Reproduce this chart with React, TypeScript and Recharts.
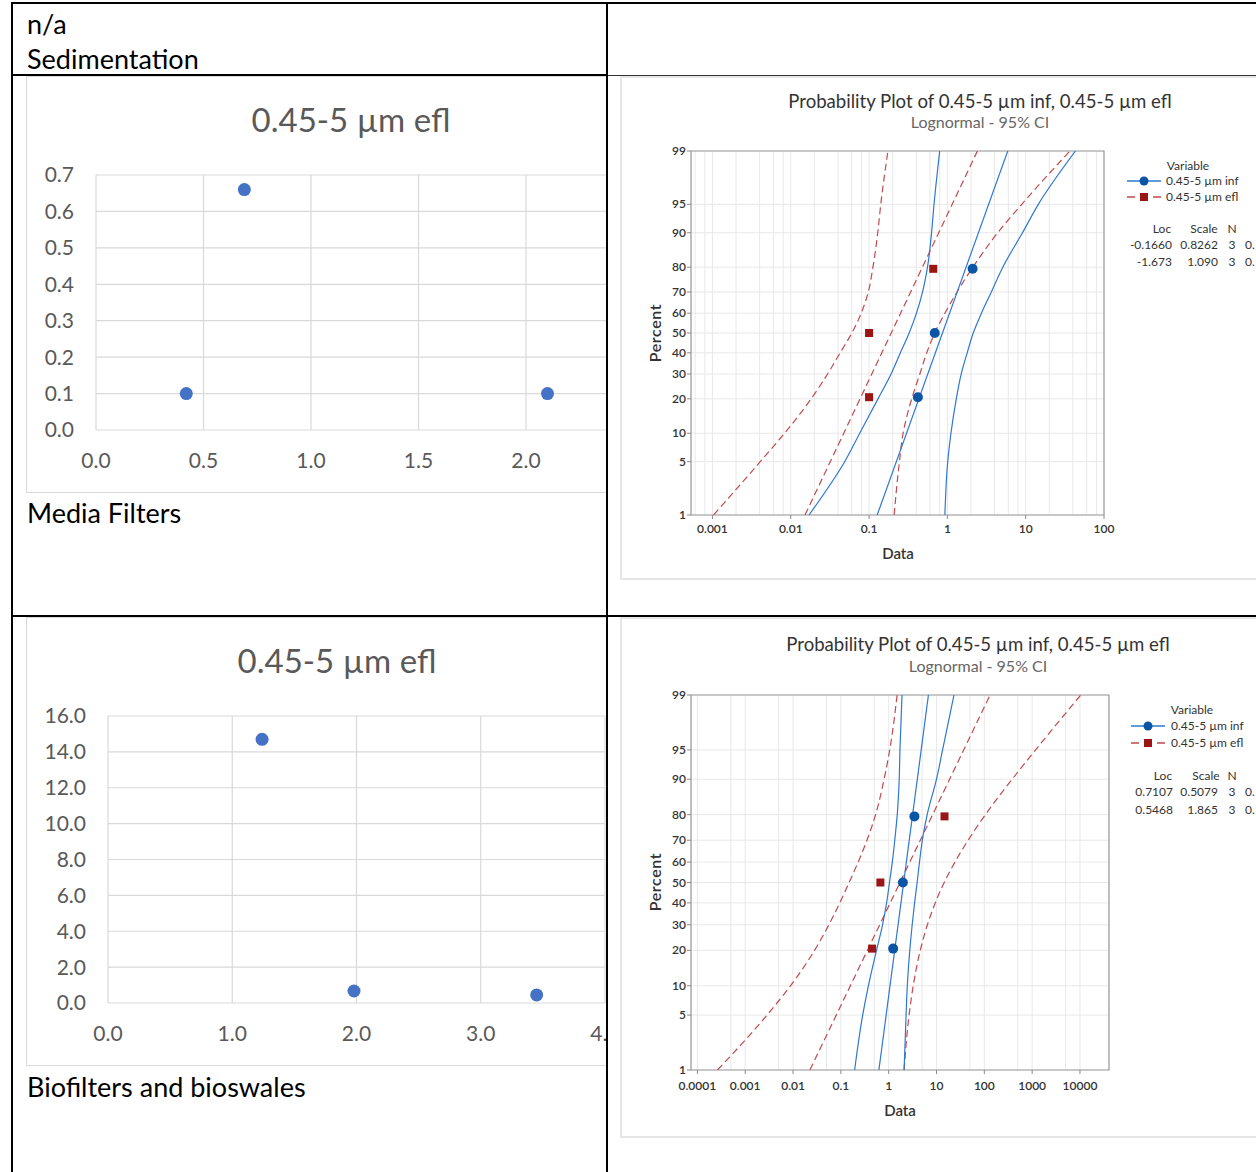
import React from 'react';
import { ComposedChart, ScatterChart, Scatter, Line, XAxis, YAxis, CartesianGrid, ReferenceArea } from 'recharts';

const EXCEL_FONT = 'Lato, Carlito, Calibri, "Liberation Sans", sans-serif';
const MT_FONT = 'Lato, "Segoe UI", "Noto Sans", sans-serif';

// ---------- Excel scatter: Media Filters ----------
const mfX = [0.42, 0.69, 2.1];
const mfY = [0.1, 0.66, 0.1];
const mfXTicks = [0, 0.5, 1, 1.5, 2, 2.5];
const mfXTickLabels = ['0.0', '0.5', '1.0', '1.5', '2.0', ''];
const mfYTicks = [0, 0.1, 0.2, 0.3, 0.4, 0.5, 0.6, 0.7];

// ---------- Excel scatter: Biofilters and bioswales ----------
const bfX = [1.24, 1.98, 3.45];
const bfY = [14.7, 0.67, 0.45];
const bfXTicks = [0, 1, 2, 3, 4];
const bfXTickLabels = ['0.0', '1.0', '2.0', '3.0', '4.0'];
const bfYTicks = [0, 2, 4, 6, 8, 10, 12, 14, 16];

// ---------- Minitab probability plots ----------
const percentTicks = [1, 5, 10, 20, 30, 40, 50, 60, 70, 80, 90, 95, 99];
const rankPercents = [20.6, 50, 79.4];
const ciPercents = [1, 5, 10, 20, 30, 40, 50, 60, 70, 80, 90, 95, 99];
const fitPercents = [1, 99];

// plot 1 (Media Filters)
const p1Majors = [0.001, 0.01, 0.1, 1, 10, 100];
const p1MajorLabels = ['0.001', '0.01', '0.1', '1', '10', '100'];
const p1MinorMult = [2, 4, 6, 8];
const p1Domain: [number, number] = [0.000532, 100];
const p1InfPts = [0.42, 0.69, 2.1];
const p1EflPts = [0.1, 0.1, 0.66];
const p1InfFit = [0.127, 5.9];
const p1EflFit = [0.0152, 2.42];
const p1InfLo = [0.0171, 0.0488, 0.076, 0.13, 0.191, 0.251, 0.325, 0.403, 0.482, 0.557, 0.628, 0.675, 0.798];
const p1InfHi = [0.929, 1.01, 1.11, 1.3, 1.5, 1.79, 2.14, 2.72, 3.64, 5.1, 9.1, 14.5, 43.2];
const p1EflLo = [0.001035, 0.00407, 0.00832, 0.0182, 0.0295, 0.0427, 0.0603, 0.0794, 0.0977, 0.112, 0.129, 0.141, 0.174];
const p1EflHi = [0.209, 0.244, 0.272, 0.35, 0.445, 0.545, 0.69, 0.929, 1.33, 2.12, 4.39, 8.9, 36.7];
const p1Stats = [['-0.1660', '0.8262', '3', '0.'], ['-1.673', '1.090', '3', '0.']];

// plot 2 (Biofilters and bioswales)
const p2Majors = [0.0001, 0.001, 0.01, 0.1, 1, 10, 100, 1000, 10000];
const p2MajorLabels = ['0.0001', '0.001', '0.01', '0.1', '1', '10', '100', '1000', '10000'];
const p2MinorMult = [5];
const p2Domain: [number, number] = [0.0000735, 40450];
const p2InfPts = [1.24, 1.98, 3.45];
const p2EflPts = [0.45, 0.67, 14.7];
const p2InfFit = [0.624, 6.78];
const p2EflFit = [0.0225, 132];
const p2InfLo = [0.194, 0.286, 0.376, 0.556, 0.745, 0.904, 1.04, 1.19, 1.34, 1.51, 1.66, 1.72, 1.9];
const p2InfHi = [2.1, 2.31, 2.45, 2.76, 3.1, 3.48, 3.93, 4.41, 5.05, 6.38, 10.0, 13.4, 23.2];
const p2EflLo = [0.000263, 0.00286, 0.00883, 0.0282, 0.0561, 0.0948, 0.149, 0.23, 0.352, 0.532, 0.801, 1.05, 1.5];
const p2EflHi = [2.1, 2.67, 3.26, 4.58, 6.45, 9.4, 14.5, 24.3, 45.8, 105, 382, 1178, 10400];
const p2Stats = [['0.7107', '0.5079', '3', '0.'], ['0.5468', '1.865', '3', '0.']];

const titleText = 'Probability Plot of 0.45-5 µm inf, 0.45-5 µm efl';
const subtitleText = 'Lognormal - 95% CI';
const legendItems = ['0.45-5 µm inf', '0.45-5 µm efl'];

// inverse standard normal CDF (probability-axis transform)
function probit(p: number): number {
  const a = [-39.69683028665376, 220.9460984245205, -275.9285104469687, 138.357751867269, -30.66479806614716, 2.506628277459239];
  const b = [-54.47609879822406, 161.5858368580409, -155.6989798598866, 66.80131188771972, -13.28068155288572];
  const c = [-0.007784894002430293, -0.3223964580411365, -2.400758277161838, -2.549732539343734, 4.374664141464968, 2.938163982698783];
  const d = [0.007784695709041462, 0.3224671290700398, 2.445134137142996, 3.754408661907416];
  const pl = 0.02425;
  if (p < pl) {
    const q = Math.sqrt(-2 * Math.log(p));
    return (((((c[0] * q + c[1]) * q + c[2]) * q + c[3]) * q + c[4]) * q + c[5]) / ((((d[0] * q + d[1]) * q + d[2]) * q + d[3]) * q + 1);
  }
  if (p <= 1 - pl) {
    const q = p - 0.5;
    const r = q * q;
    return ((((((a[0] * r + a[1]) * r + a[2]) * r + a[3]) * r + a[4]) * r + a[5]) * q) / (((((b[0] * r + b[1]) * r + b[2]) * r + b[3]) * r + b[4]) * r + 1);
  }
  const q = Math.sqrt(-2 * Math.log(1 - p));
  return -(((((c[0] * q + c[1]) * q + c[2]) * q + c[3]) * q + c[4]) * q + c[5]) / ((((d[0] * q + d[1]) * q + d[2]) * q + d[3]) * q + 1);
}

const toPts = (xs: number[], ps: number[]) => xs.map((x, i) => ({ x, z: probit(ps[i] / 100) }));

const BLUE_LINE = '#2f78d2';
const BLUE_DOT = '#0a55a6';
const RED_LINE = '#c04a4e';
const RED_DOT = '#9c1515';

function Txt(props: { x: number; y: number; size: number; color?: string; anchor?: string; font?: string; weight?: number; rotate?: boolean; spacing?: number; children: React.ReactNode }) {
  const { x, y, size, color = '#000', anchor = 'start', font = MT_FONT, weight = 400, rotate = false, spacing = 0, children } = props;
  const tx = anchor === 'middle' ? '-50%' : anchor === 'end' ? '-100%' : '0';
  return (
    <div
      style={{
        position: 'absolute', left: x, top: y, whiteSpace: 'nowrap', lineHeight: 1, fontSize: size, color,
        fontFamily: font, fontWeight: weight, letterSpacing: spacing,
        transform: `translate(${tx}, -50%)` + (rotate ? ' rotate(-90deg)' : ''),
        transformOrigin: rotate ? '50% 50%' : undefined,
      }}
    >
      {children}
    </div>
  );
}

interface ProbProps {
  left: number; top: number; W: number; H: number;
  plot: { l: number; t: number; r: number; b: number };
  domain: [number, number];
  majors: number[]; majorLabels: string[]; minorMult: number[]; xLabelDy: number;
  infPts: number[]; eflPts: number[]; infFit: number[]; eflFit: number[];
  infLo: number[]; infHi: number[]; eflLo: number[]; eflHi: number[];
  stats: string[][];
  pos: {
    titleX: number; titleY: number; subY: number; pctX: number; pctY: number; dataX: number; dataY: number;
    varX: number; varY: number; legLineX: number; legTextX: number; legY1: number; legY2: number;
    stHeadY: number; stRow1: number; stRow2: number; c1: number; c2: number; c3: number; c4: number; hLoc: number; hScale: number;
  };
}

function ProbPlot(p: ProbProps) {
  const zMin = probit(0.01);
  const zMax = probit(0.99);
  const zTicks = percentTicks.map((v) => probit(v / 100));
  const decades = [p.majors[0] / 10, ...p.majors];
  const minors: number[] = [];
  decades.forEach((m) => p.minorMult.forEach((k) => {
    const v = m * k;
    if (v > p.domain[0] && v < p.domain[1]) minors.push(v);
  }));
  const allX = [...p.majors, ...minors].sort((a, b) => a - b);

  const XTick = (tp: any) => {
    const { x, y, payload } = tp;
    const idx = p.majors.findIndex((m) => Math.abs(payload.value / m - 1) < 1e-6);
    if (idx < 0) return <g />;
    return (
      <g>
        <line x1={x} x2={x} y1={y} y2={y + 4} stroke="#8a8a8a" />
        <text x={x} y={y + p.xLabelDy} textAnchor="middle" fontSize={12} fontWeight={600} fill="#333" fontFamily={MT_FONT}>{p.majorLabels[idx]}</text>
      </g>
    );
  };
  const YTick = (tp: any) => {
    const { x, y, payload } = tp;
    const idx = zTicks.findIndex((z) => Math.abs(z - payload.value) < 1e-6);
    return (
      <g>
        <line x1={x - 4} x2={x} y1={y} y2={y} stroke="#8a8a8a" />
        <text x={x - 5} y={y + 4} textAnchor="end" fontSize={12} fontWeight={600} fill="#333" fontFamily={MT_FONT}>{idx >= 0 ? percentTicks[idx] : ''}</text>
      </g>
    );
  };

  const lineProps = { isAnimationActive: false, dot: false, activeDot: false, type: 'monotoneY' as const, strokeWidth: 1.2 };
  const pos = p.pos;

  return (
    <div style={{ position: 'absolute', left: p.left, top: p.top, width: p.W, height: p.H, background: '#fff', boxShadow: 'inset 0 0 0 2px #e6e6e6' }}>
      <div style={{ position: 'absolute', left: 0, top: 0 }}>
        <ComposedChart width={p.W} height={p.H} margin={{ top: p.plot.t, left: p.plot.l - 40, right: p.W - p.plot.r, bottom: p.H - p.plot.b - 30 }}>
          <CartesianGrid stroke="#e8e8e8" strokeWidth={1} />
          <XAxis dataKey="x" type="number" scale="log" domain={p.domain} allowDataOverflow ticks={allX} interval={0}
            tick={(tp: any) => <XTick {...tp} />} tickLine={false} axisLine={false} tickSize={0} tickMargin={0} height={30} />
          <YAxis type="number" domain={[zMin, zMax]} allowDataOverflow ticks={zTicks} interval={0}
            tick={(tp: any) => <YTick {...tp} />} tickLine={false} axisLine={false} tickSize={0} tickMargin={0} width={40} />
          <ReferenceArea x1={p.domain[0]} x2={p.domain[1]} y1={zMin} y2={zMax} fill="none" fillOpacity={0} stroke="#9c9c9c" strokeWidth={1.2} />
          <Line data={toPts(p.eflLo, ciPercents)} dataKey="z" stroke={RED_LINE} strokeDasharray="7 4" {...lineProps} />
          <Line data={toPts(p.eflHi, ciPercents)} dataKey="z" stroke={RED_LINE} strokeDasharray="7 4" {...lineProps} />
          <Line data={toPts(p.eflFit, fitPercents)} dataKey="z" stroke={RED_LINE} strokeDasharray="7 4" {...lineProps} type="linear" />
          <Line data={toPts(p.infLo, ciPercents)} dataKey="z" stroke={BLUE_LINE} {...lineProps} />
          <Line data={toPts(p.infHi, ciPercents)} dataKey="z" stroke={BLUE_LINE} {...lineProps} />
          <Line data={toPts(p.infFit, fitPercents)} dataKey="z" stroke={BLUE_LINE} {...lineProps} type="linear" />
          <Scatter data={toPts(p.eflPts, rankPercents)} dataKey="z" isAnimationActive={false}
            shape={(sp: any) => <rect x={sp.cx - 4} y={sp.cy - 4} width={8} height={8} fill={RED_DOT} />} />
          <Scatter data={toPts(p.infPts, rankPercents)} dataKey="z" isAnimationActive={false}
            shape={(sp: any) => <circle cx={sp.cx} cy={sp.cy} r={5} fill={BLUE_DOT} />} />
        </ComposedChart>
      </div>
      <Txt x={pos.titleX} y={pos.titleY} size={18.6} color="#333" anchor="middle">{titleText}</Txt>
      <Txt x={pos.titleX} y={pos.subY} size={16} color="#666" anchor="middle">{subtitleText}</Txt>
      <Txt x={pos.pctX} y={pos.pctY} size={16} color="#333" anchor="middle" weight={600} spacing={0.6} rotate>Percent</Txt>
      <Txt x={pos.dataX} y={pos.dataY} size={15} color="#333" anchor="middle" weight={600}>Data</Txt>
      <Txt x={pos.varX} y={pos.varY} size={12} color="#333" anchor="middle">Variable</Txt>
      <svg style={{ position: 'absolute', left: pos.legLineX, top: pos.legY1 - 6 }} width={34} height={30}>
        <line x1={0} x2={34} y1={6} y2={6} stroke={BLUE_LINE} strokeWidth={1.4} />
        <circle cx={17} cy={6} r={4.5} fill={BLUE_DOT} />
        <line x1={0} x2={34} y1={6 + pos.legY2 - pos.legY1} y2={6 + pos.legY2 - pos.legY1} stroke={RED_LINE} strokeWidth={1.4} strokeDasharray="8 5" />
        <rect x={13} y={2 + pos.legY2 - pos.legY1} width={8} height={8} fill={RED_DOT} />
      </svg>
      <Txt x={pos.legTextX} y={pos.legY1} size={12} color="#333">{legendItems[0]}</Txt>
      <Txt x={pos.legTextX} y={pos.legY2} size={12} color="#333">{legendItems[1]}</Txt>
      <Txt x={pos.hLoc} y={pos.stHeadY} size={12} color="#333" anchor="middle">Loc</Txt>
      <Txt x={pos.hScale} y={pos.stHeadY} size={12} color="#333" anchor="middle">Scale</Txt>
      <Txt x={pos.c3} y={pos.stHeadY} size={12} color="#333" anchor="middle">N</Txt>
      {p.stats.map((row, i) => {
        const y = i === 0 ? pos.stRow1 : pos.stRow2;
        return (
          <React.Fragment key={i}>
            <Txt x={pos.c1} y={y} size={12} color="#333" anchor="end">{row[0]}</Txt>
            <Txt x={pos.c2} y={y} size={12} color="#333" anchor="end">{row[1]}</Txt>
            <Txt x={pos.c3} y={y} size={12} color="#333" anchor="middle">{row[2]}</Txt>
            <Txt x={pos.c4} y={y} size={12} color="#333">{row[3]}</Txt>
          </React.Fragment>
        );
      })}
    </div>
  );
}

interface ExcelProps {
  left: number; top: number; boxW: number; W: number; H: number; titleCx: number;
  plot: { l: number; t: number; r: number; b: number };
  xDomain: [number, number]; xTicks: number[]; xTickLabels: string[]; yDomain: [number, number]; yTicks: number[];
  xs: number[]; ys: number[];
}

function ExcelScatter(p: ExcelProps) {
  const data = p.xs.map((x, i) => ({ x, y: p.ys[i] }));
  const tickStyle = { fill: '#595959', fontSize: 21, fontFamily: EXCEL_FONT };
  const xLabel = (v: number) => {
    const i = p.xTicks.findIndex((t) => Math.abs(t - v) < 1e-9);
    return i >= 0 ? p.xTickLabels[i] : '';
  };
  return (
    <div style={{ position: 'absolute', left: p.left, top: p.top, width: p.boxW, height: p.H, overflow: 'hidden', background: '#fff', boxShadow: 'inset 0 0 0 1px #d9d9d9' }}>
      <div style={{ position: 'absolute', left: 0, top: 0 }}>
        <ScatterChart width={p.W} height={p.H} margin={{ top: p.plot.t, left: p.plot.l - 50, right: p.W - p.plot.r, bottom: p.H - p.plot.b - 40 }}>
          <CartesianGrid stroke="#d9d9d9" strokeWidth={1.2} />
          <XAxis dataKey="x" type="number" domain={p.xDomain} ticks={p.xTicks} allowDataOverflow interval={0}
            tickFormatter={xLabel} axisLine={false} tickLine={false} tickSize={0} tickMargin={23} height={40} tick={tickStyle} />
          <YAxis dataKey="y" type="number" domain={p.yDomain} ticks={p.yTicks} allowDataOverflow interval={0}
            tickFormatter={(v: number) => v.toFixed(1)} axisLine={false} tickLine={false} tickSize={0} tickMargin={22} width={50} tick={tickStyle} />
          <Scatter data={data} isAnimationActive={false}
            shape={(sp: any) => <circle cx={sp.cx} cy={sp.cy} r={6.5} fill="#4472c4" />} />
        </ScatterChart>
      </div>
      <Txt x={p.titleCx} y={43} size={33} color="#595959" anchor="middle" font={EXCEL_FONT}>0.45-5 µm efl</Txt>
    </div>
  );
}

const lineStyle = (left: number, top: number, width: number, height: number, bg = '#000'): React.CSSProperties => ({
  position: 'absolute', left, top, width, height, background: bg,
});

export default function App() {
  return (
    <div style={{ position: 'absolute', left: 0, top: 0, width: 1256, height: 1172, overflow: 'hidden', background: '#fff' }}>
      <Txt x={27} y={23} size={27} font={EXCEL_FONT}>n/a</Txt>
      <Txt x={27} y={58} size={27} font={EXCEL_FONT}>Sedimentation</Txt>
      <Txt x={27} y={512} size={27} font={EXCEL_FONT}>Media Filters</Txt>
      <Txt x={27} y={1086} size={27} font={EXCEL_FONT}>Biofilters and bioswales</Txt>

      <ExcelScatter left={26} top={76} boxW={581} W={700} H={417} titleCx={325}
        plot={{ l: 70, t: 99, r: 607.5, b: 354 }}
        xDomain={[0, 2.5]} xTicks={mfXTicks} xTickLabels={mfXTickLabels} yDomain={[0, 0.7]} yTicks={mfYTicks} xs={mfX} ys={mfY} />
      <ExcelScatter left={26} top={617} boxW={581} W={700} H={449} titleCx={311}
        plot={{ l: 82, t: 99, r: 579, b: 386 }}
        xDomain={[0, 4]} xTicks={bfXTicks} xTickLabels={bfXTickLabels} yDomain={[0, 16]} yTicks={bfYTicks} xs={bfX} ys={bfY} />

      <ProbPlot left={620} top={76} W={700} H={504}
        plot={{ l: 71, t: 75, r: 484, b: 439 }} domain={p1Domain} xLabelDy={18}
        majors={p1Majors} majorLabels={p1MajorLabels} minorMult={p1MinorMult}
        infPts={p1InfPts} eflPts={p1EflPts} infFit={p1InfFit} eflFit={p1EflFit}
        infLo={p1InfLo} infHi={p1InfHi} eflLo={p1EflLo} eflHi={p1EflHi} stats={p1Stats}
        pos={{ titleX: 360, titleY: 25, subY: 46, pctX: 35, pctY: 257, dataX: 278, dataY: 477,
          varX: 568, varY: 90, legLineX: 507, legTextX: 546, legY1: 105, legY2: 121,
          stHeadY: 153, stRow1: 169, stRow2: 186, c1: 552, c2: 598, c3: 612, c4: 625, hLoc: 542, hScale: 584 }} />
      <ProbPlot left={620} top={617} W={700} H={521}
        plot={{ l: 71, t: 78, r: 489, b: 453 }} domain={p2Domain} xLabelDy={20}
        majors={p2Majors} majorLabels={p2MajorLabels} minorMult={p2MinorMult}
        infPts={p2InfPts} eflPts={p2EflPts} infFit={p2InfFit} eflFit={p2EflFit}
        infLo={p2InfLo} infHi={p2InfHi} eflLo={p2EflLo} eflHi={p2EflHi} stats={p2Stats}
        pos={{ titleX: 358, titleY: 27, subY: 49, pctX: 35, pctY: 265, dataX: 280, dataY: 493,
          varX: 572, varY: 93, legLineX: 511, legTextX: 551, legY1: 109, legY2: 126,
          stHeadY: 159, stRow1: 175, stRow2: 193, c1: 553, c2: 598, c3: 612, c4: 625, hLoc: 543, hScale: 586 }} />

      <div style={lineStyle(11, 2, 1245, 2)} />
      <div style={lineStyle(11, 2, 2, 1170)} />
      <div style={lineStyle(606, 2, 2, 1170)} />
      <div style={lineStyle(12, 74, 596, 2)} />
      <div style={lineStyle(608, 75, 648, 1, '#333')} />
      <div style={lineStyle(12, 615, 1244, 2)} />
    </div>
  );
}
